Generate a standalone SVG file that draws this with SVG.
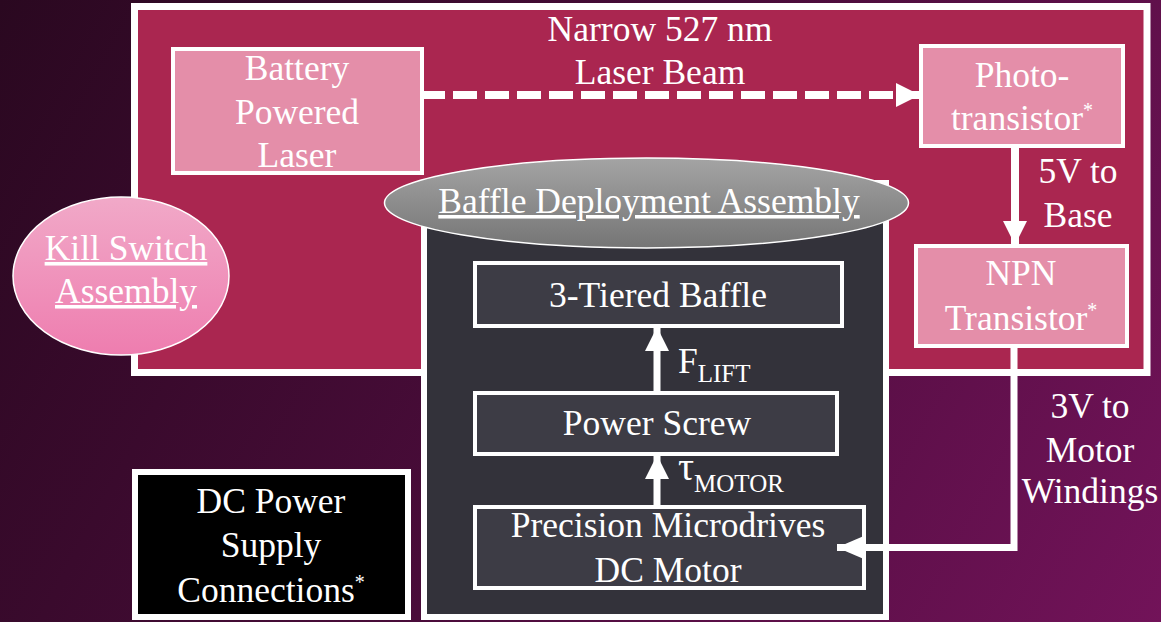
<svg xmlns="http://www.w3.org/2000/svg" width="1161" height="622" viewBox="0 0 1161 622">
  <defs>
    <linearGradient id="bg" x1="0" y1="0" x2="1161" y2="622" gradientUnits="userSpaceOnUse">
      <stop offset="0" stop-color="#2a0820"/>
      <stop offset="0.5" stop-color="#4a0c3a"/>
      <stop offset="1" stop-color="#721359"/>
    </linearGradient>
    <linearGradient id="pinkOrb" x1="0" y1="0" x2="0" y2="1">
      <stop offset="0" stop-color="#f1a9c8"/>
      <stop offset="1" stop-color="#ee7daf"/>
    </linearGradient>
    <linearGradient id="greyCap" x1="0" y1="0" x2="0" y2="1">
      <stop offset="0" stop-color="#a4a4a4"/>
      <stop offset="1" stop-color="#757575"/>
    </linearGradient>
    <marker id="head" markerUnits="userSpaceOnUse" markerWidth="24" markerHeight="24" viewBox="0 0 24 24" refX="24" refY="12" orient="auto">
      <path d="M0,0 L24,12 L0,24 Z" fill="#ffffff"/>
    </marker>
    <marker id="headLong" markerUnits="userSpaceOnUse" markerWidth="28" markerHeight="24" viewBox="0 0 28 24" refX="28" refY="12" orient="auto">
      <path d="M0,0 L28,12 L0,24 Z" fill="#ffffff"/>
    </marker>
    <style>
      text { font-family: "Liberation Serif", "Times New Roman", serif; font-size: 35.5px; fill: #ffffff; text-anchor: middle; }
      .sub { font-size: 25px; }
      .sup { font-size: 20px; }
      .ul { text-decoration: underline; }
      .frame { fill: #aa2650; stroke: #ffffff; stroke-width: 7; }
      .pink { fill: #e48ea9; stroke: #ffffff; stroke-width: 4; }
      .panel { fill: #33323a; stroke: #ffffff; stroke-width: 6; }
      .inner { fill: #3d3c45; stroke: #ffffff; stroke-width: 4; }
      .wire { fill: none; stroke: #ffffff; marker-end: url(#head); }
    </style>
  </defs>

  <rect width="1161" height="622" fill="url(#bg)"/>

  <!-- sensing circuit frame -->
  <g id="sensor-frame">
    <rect class="frame" x="134.5" y="6.5" width="1012.5" height="366"/>
  </g>

  <g id="laser">
    <rect class="pink" x="173" y="49" width="249" height="124"/>
    <text x="297" y="80">Battery</text>
    <text x="297" y="124">Powered</text>
    <text x="297" y="167">Laser</text>
  </g>

  <g id="beam-label">
    <text x="660" y="41">Narrow 527 nm</text>
    <text x="660" y="84">Laser Beam</text>
  </g>

  <g id="phototransistor">
    <rect class="pink" x="921" y="46" width="202" height="100"/>
    <text x="1022" y="87">Photo-</text>
    <text x="1022" y="130">transistor<tspan class="sup" dy="-13">*</tspan></text>
  </g>

  <g id="base-label">
    <text x="1078" y="183">5V to</text>
    <text x="1078" y="227">Base</text>
  </g>

  <g id="npn">
    <rect class="pink" x="916" y="246" width="211" height="100"/>
    <text x="1021" y="285">NPN</text>
    <text x="1021" y="330">Transistor<tspan class="sup" dy="-13">*</tspan></text>
  </g>

  <g id="kill-switch">
    <ellipse cx="121" cy="276" rx="108" ry="79" fill="url(#pinkOrb)" stroke="#ffffff" stroke-width="1.5"/>
    <text class="ul" x="126" y="260">Kill Switch</text>
    <text class="ul" x="126" y="303">Assembly</text>
  </g>

  <g id="baffle-assembly">
    <rect class="panel" x="424" y="183" width="462" height="434"/>
    <ellipse cx="646.5" cy="203" rx="262" ry="45" fill="url(#greyCap)" stroke="#ffffff" stroke-width="1.5"/>
    <text class="ul" x="649" y="213">Baffle Deployment Assembly</text>
  </g>

  <g id="baffle">
    <rect class="inner" x="475" y="263" width="367" height="63"/>
    <text x="658" y="307">3-Tiered Baffle</text>
  </g>

  <g id="power-screw">
    <rect class="inner" x="475" y="393" width="362" height="61"/>
    <text x="657" y="435">Power Screw</text>
  </g>

  <g id="motor">
    <rect class="inner" x="475" y="507" width="389" height="81"/>
    <text x="668" y="537">Precision Microdrives</text>
    <text x="668" y="582">DC Motor</text>
  </g>

  <g id="winding-label">
    <text x="1090" y="418">3V to</text>
    <text x="1090" y="462">Motor</text>
    <text x="1090" y="503">Windings</text>
  </g>

  <g id="dc-supply">
    <rect x="135" y="472" width="273" height="145" fill="#000000" stroke="#ffffff" stroke-width="6"/>
    <text x="271" y="513">DC Power</text>
    <text x="271" y="557">Supply</text>
    <text x="271" y="602">Connections<tspan class="sup" dy="-13">*</tspan></text>
  </g>

  <!-- connectors -->
  <g id="connectors">
    <path class="wire" d="M423,95 H920" stroke-width="8" stroke-dasharray="24 8" stroke-dashoffset="2"/>
    <path class="wire" d="M1015,146 V245" stroke-width="8"/>
    <path class="wire" d="M1014,346 V547.5 H837" stroke-width="7" style="marker-end:url(#headLong)"/>
    <path class="wire" d="M657,393 V327" stroke-width="7"/>
    <path class="wire" d="M657,507 V455" stroke-width="7"/>
  </g>

  <g id="force-labels">
    <text x="678" y="373" style="text-anchor:start">F<tspan class="sub" dy="9">LIFT</tspan></text>
    <text x="678" y="480" style="text-anchor:start;font-size:40px">τ<tspan class="sub" dy="12">MOTOR</tspan></text>
  </g>
</svg>
